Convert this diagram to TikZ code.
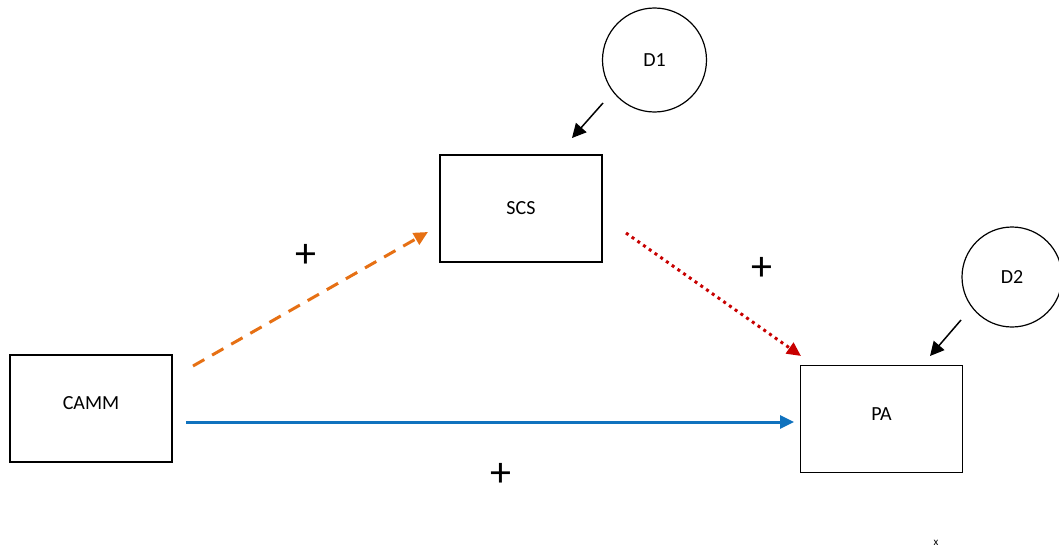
\documentclass[tikz,border=0pt]{standalone}
\usepackage{fontspec}
\setmainfont{Carlito}
\usetikzlibrary{arrows.meta}
\definecolor{orangeline}{RGB}{230,112,20}
\definecolor{redline}{RGB}{200,0,0}
\definecolor{blueline}{RGB}{16,114,190}
\begin{document}
\begin{tikzpicture}[x=1pt, y=-1pt, >={Triangle[length=14pt, width=13pt]},
    varbox/.style={draw, line width=1.2pt, minimum width=162pt, minimum height=107pt, inner sep=0pt, font=\fontsize{20}{24}\selectfont},
    errcircle/.style={draw, circle, line width=1.2pt, minimum size=104pt, inner sep=0pt, font=\fontsize{20}{24}\selectfont},
    plussign/.style={font=\fontsize{42}{46}\selectfont}]
    % Seitenrahmen
    \useasboundingbox (0,0) rectangle (1059,551);

    % Variablen
    \node[varbox, text depth=10pt] (camm) at (91,408.5) {CAMM};
    \node[varbox] (scs) at (521,208.5) {SCS};
    \node[varbox, text depth=10pt] (pa) at (881.5,419) {PA};

    % Stoerterme
    \node[errcircle] (d1) at (654.5,60) {D1};
    \node[errcircle, minimum size=100pt] (d2) at (1012,277) {D2};

    % Pfeilenden
    \coordinate (cammtop) at (193,366);
    \coordinate (scsleft) at (428,232);
    \coordinate (scsright) at (626,233);
    \coordinate (patop) at (801,356);
    \coordinate (cammright) at (186,422);
    \coordinate (paleft) at (794,422);
    \coordinate (d1out) at (603,103);
    \coordinate (scsin) at (572,138);
    \coordinate (d2out) at (961,320);
    \coordinate (pain) at (930,356);

    % Pfade
    \draw[->, orangeline, line width=3pt, dash pattern=on 13pt off 9pt] (cammtop) -- (scsleft);
    \draw[->, redline, line width=3pt, dash pattern=on 3pt off 4pt] (scsright) -- (patop);
    \draw[->, blueline, line width=3pt] (cammright) -- (paleft);
    \draw[->, line width=1.5pt, >={Triangle[length=14pt, width=14pt]}] (d1out) -- (scsin);
    \draw[->, line width=1.5pt, >={Triangle[length=14pt, width=14pt]}] (d2out) -- (pain);

    % Vorzeichen
    \node[plussign] (p1) at (306,256) {+};
    \node[plussign] (p2) at (762,269) {+};
    \node[plussign] (p3) at (501,475) {+};
    \node[font=\fontsize{11}{12}\selectfont] (xmark) at (936,543) {x};
\end{tikzpicture}
\end{document}
